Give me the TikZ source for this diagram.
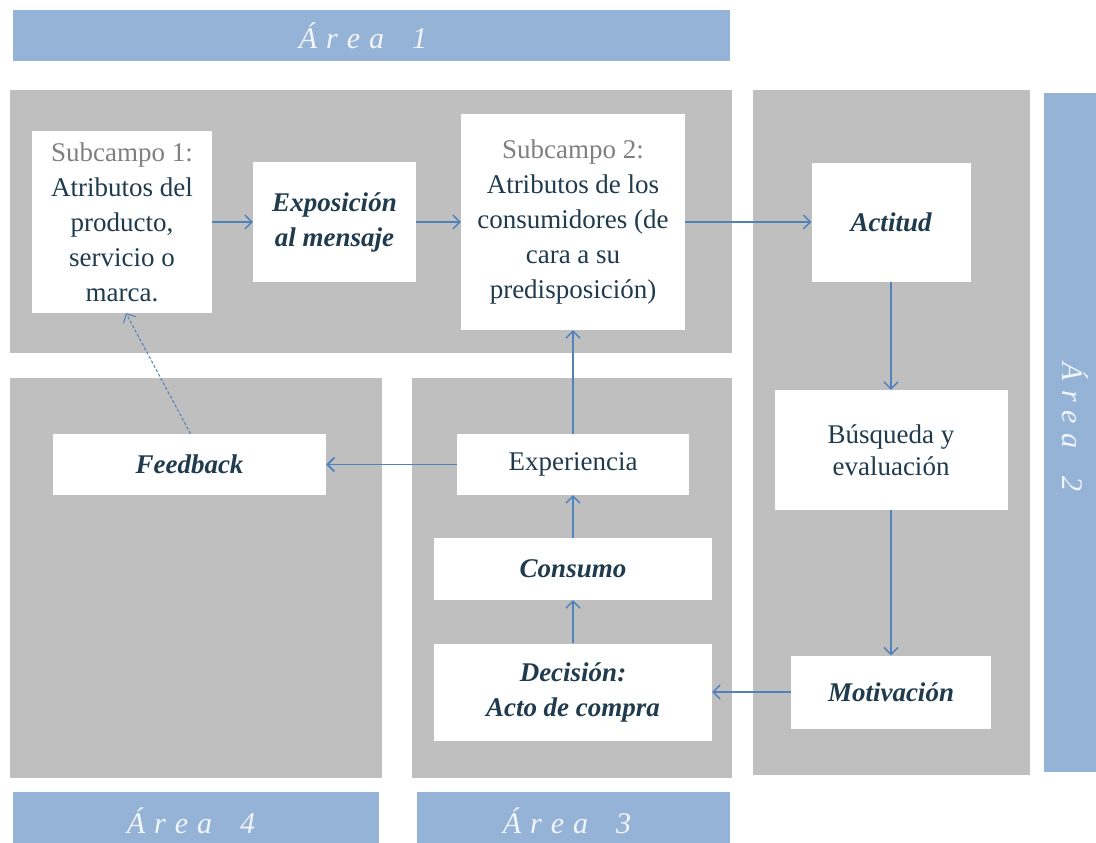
\documentclass[tikz,border=0pt]{standalone}
\usepackage{fontspec}
\setmainfont{Liberation Serif}
\usetikzlibrary{arrows.meta}
\definecolor{barcol}{HTML}{95B3D7}
\definecolor{panelcol}{HTML}{BFBFBF}
\definecolor{arrcol}{HTML}{4F81BD}
\definecolor{txtcol}{HTML}{1F3B4D}
\definecolor{subcol}{HTML}{808080}
\definecolor{lblcol}{HTML}{F2F5FA}
\newcommand{\arealbl}[1]{\'A\hspace{9pt}r\hspace{9pt}e\hspace{9pt}a\hspace{28pt}#1}
\begin{document}
\begin{tikzpicture}[x=1pt,y=-1pt,
  box/.style={fill=white, draw=none, inner sep=0pt, align=center, text=txtcol,
    font=\fontsize{27}{35}\selectfont},
  bibox/.style={box, font=\fontsize{27}{35}\selectfont\bfseries\itshape},
  conn/.style={draw=arrcol, line width=1.4pt, -{Straight Barb[length=7pt,width=14pt]}},
  dashconn/.style={conn, line width=1pt, dash pattern=on 3pt off 2pt},
  arealabel/.style={text=lblcol, font=\fontsize{30}{32}\selectfont\itshape, inner sep=0pt, anchor=base}
]
\useasboundingbox (0,0) rectangle (1096,843);
% area bars
\fill[barcol] (13,10) rectangle (730,61);
\fill[barcol] (1044,93) rectangle (1096,772);
\fill[barcol] (13,792) rectangle (379,843);
\fill[barcol] (417,792) rectangle (730,843);
% gray panels
\fill[panelcol] (10,90) rectangle (732,353);
\fill[panelcol] (753,90) rectangle (1030,775);
\fill[panelcol] (10,378) rectangle (382,778);
\fill[panelcol] (412,378) rectangle (732,778);
% area labels
\node[arealabel] (a1) at (363,49) {\arealbl{1}};
\node[arealabel, rotate=-90] (a2) at (1062,427) {\arealbl{2}};
\node[arealabel] (a4) at (191,833) {\arealbl{4}};
\node[arealabel] (a3) at (567,833) {\arealbl{3}};
% boxes
\node[box, minimum width=180pt, minimum height=182pt] (s1) at (122,222)
  {{\color{subcol}Subcampo 1:}\\Atributos del\\producto,\\servicio o\\marca.};
\node[bibox, minimum width=163pt, minimum height=120pt] (exp) at (334.5,222)
  {Exposición\\al mensaje};
\node[box, minimum width=224pt, minimum height=216pt] (s2) at (573,222)
  {{\color{subcol}Subcampo 2:}\\Atributos de los\\consumidores (de\\cara a su\\predisposición)};
\node[bibox, minimum width=159pt, minimum height=119pt] (act) at (891,222) {Actitud};
\node[box, minimum width=233pt, minimum height=120pt, font=\fontsize{27}{32}\selectfont] (bus) at (891,450)
  {Búsqueda y\\evaluación};
\node[bibox, minimum width=200pt, minimum height=73pt] (mot) at (891,692) {Motivación};
\node[bibox, minimum width=273pt, minimum height=61pt] (fb) at (189.5,464.5) {Feedback};
\node[box, minimum width=232pt, minimum height=61pt] (expe) at (573,464.5) {Experiencia};
\node[bibox, minimum width=278pt, minimum height=62pt] (cons) at (573,569) {Consumo};
\node[bibox, minimum width=278pt, minimum height=97pt] (dec) at (573,692)
  {Decisión:\\Acto de compra};
% connectors
\draw[conn] (s1.east) -- (exp.west);
\draw[conn] (exp.east) -- (s2.west);
\draw[conn] (s2.east) -- (act.west);
\draw[conn] (act.south) -- (bus.north);
\draw[conn] (bus.south) -- (mot.north);
\draw[conn] (mot.west) -- (dec.east);
\draw[conn] (dec.north) -- (cons.south);
\draw[conn] (cons.north) -- (expe.south);
\draw[conn] (expe.north) -- (s2.south);
\draw[conn, line width=1.8pt] (expe.west) -- (fb.east);
\draw[dashconn] ([xshift=1pt]fb.north) -- ([xshift=4pt]s1.south);
\end{tikzpicture}
\end{document}
